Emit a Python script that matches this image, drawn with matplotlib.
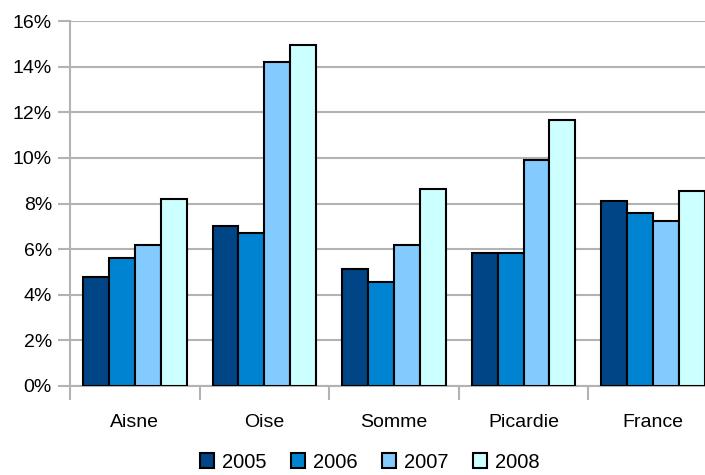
import matplotlib
matplotlib.use("Agg")
import matplotlib.pyplot as plt
import numpy as np
from matplotlib.patches import Patch

plt.rcParams['font.family'] = ['Liberation Sans', 'DejaVu Sans']

regions = ["Aisne", "Oise", "Somme", "Picardie", "France"]
years = ["2005", "2006", "2007", "2008"]
values_2005 = [4.8, 7.0, 5.15, 5.85, 8.1]
values_2006 = [5.6, 6.7, 4.55, 5.85, 7.6]
values_2007 = [6.2, 14.2, 6.2, 9.9, 7.25]
values_2008 = [8.2, 14.95, 8.65, 11.65, 8.55]
series = [values_2005, values_2006, values_2007, values_2008]
colors = ["#004586", "#0084d1", "#83caff", "#ccffff"]
y_ticks = [0, 2, 4, 6, 8, 10, 12, 14, 16]
y_tick_labels = ["0%", "2%", "4%", "6%", "8%", "10%", "12%", "14%", "16%"]

W, H = 705, 475
fig = plt.figure(figsize=(W / 100, H / 100), dpi=100)
ax = fig.add_axes([70 / W, 1 - 386 / H, (W - 70) / W, (386 - 21) / H])

grid_c = "#b3b3b3"
x = np.arange(len(regions))
bw = 0.2
for i, vals in enumerate(series):
    ax.bar(x + (i - 1.5) * bw, vals, width=bw, color=colors[i],
           edgecolor="black", linewidth=1.5, zorder=3)

ax.set_xlim(-0.5, 4.4)
ax.set_ylim(0, 16)

ax.set_yticks(y_ticks)
ax.set_yticklabels(y_tick_labels, fontsize=14)
ax.yaxis.grid(True, color=grid_c, linewidth=1.5, zorder=0)
ax.set_axisbelow(True)

# category boundaries as major ticks, names centred as minor ticks
ax.set_xticks(np.arange(-0.5, 4.0, 1.0))
ax.set_xticklabels([])
ax.set_xticks(x, minor=True)
ax.set_xticklabels(regions, minor=True, fontsize=14)
ax.tick_params(axis="x", which="major", direction="out", length=10,
               width=1.5, color=grid_c)
ax.tick_params(axis="x", which="minor", length=0, pad=20)
ax.tick_params(axis="y", direction="out", length=9, width=1.5,
               color=grid_c, pad=4)

for s in ["top", "right"]:
    ax.spines[s].set_visible(False)
for s in ["left", "bottom"]:
    ax.spines[s].set_color(grid_c)
    ax.spines[s].set_linewidth(1.5)

handles = [Patch(facecolor=c, edgecolor="black", linewidth=1.5) for c in colors]
fig.legend(handles, years, loc="center", bbox_to_anchor=(370 / W, 1 - 462 / H),
           ncol=4, frameon=False, fontsize=14.5, handlelength=0.7,
           handleheight=0.75, handletextpad=0.4, columnspacing=1.2)

fig.savefig("out.png", dpi=100)
